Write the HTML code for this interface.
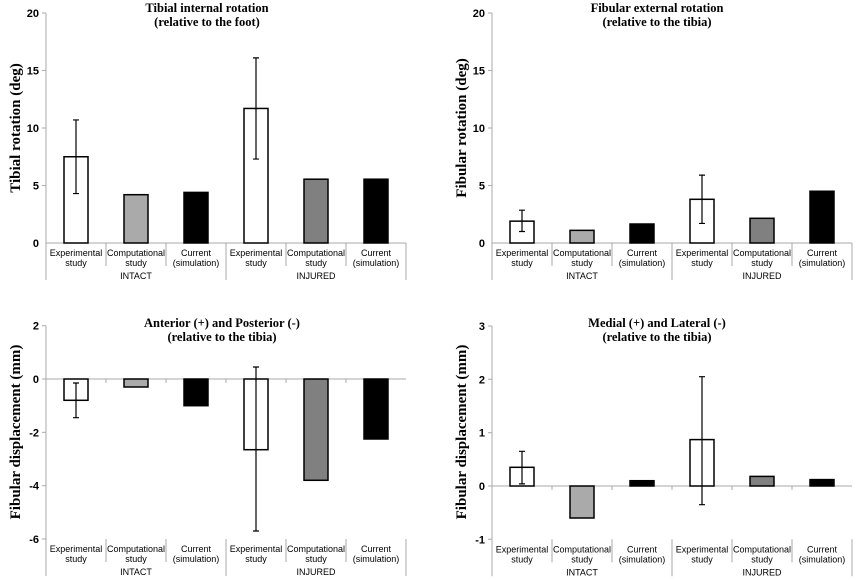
<!DOCTYPE html><html><head><style>body{margin:0;background:#fff}svg{display:block}
.t{font-family:"Liberation Serif",serif;font-weight:bold;font-size:12.5px;text-anchor:middle}
.yl{font-family:"Liberation Serif",serif;font-weight:bold;font-size:15px;text-anchor:middle}
.tk{font-family:"Liberation Sans",sans-serif;font-weight:bold;font-size:11px;text-anchor:end}
.c{font-family:"Liberation Sans",sans-serif;font-size:9px;text-anchor:middle}
.ax{stroke:#aaa;stroke-width:1;fill:none}
.b{stroke:#000;stroke-width:1.5}
.e{stroke:#000;stroke-width:1.2;fill:none}
</style></head><body>
<svg width="860" height="581" viewBox="0 0 860 581" xmlns="http://www.w3.org/2000/svg">
<defs>
<g id="cat">
<line class="ax" x1="0" y1="0" x2="0" y2="37"/>
<line class="ax" x1="60" y1="0" x2="60" y2="23"/><line class="ax" x1="120" y1="0" x2="120" y2="23"/>
<line class="ax" x1="180" y1="0" x2="180" y2="37"/>
<line class="ax" x1="240" y1="0" x2="240" y2="23"/><line class="ax" x1="300" y1="0" x2="300" y2="23"/>
<line class="ax" x1="360" y1="0" x2="360" y2="37"/>
<text class="c" x="30" y="13">Experimental</text><text class="c" x="30" y="23">study</text>
<text class="c" x="90" y="13">Computational</text><text class="c" x="90" y="23">study</text>
<text class="c" x="150" y="13">Current</text><text class="c" x="150" y="23">(simulation)</text>
<text class="c" x="210" y="13">Experimental</text><text class="c" x="210" y="23">study</text>
<text class="c" x="270" y="13">Computational</text><text class="c" x="270" y="23">study</text>
<text class="c" x="330" y="13">Current</text><text class="c" x="330" y="23">(simulation)</text>
<text class="c" x="90" y="36">INTACT</text><text class="c" x="270" y="36">INJURED</text>
</g>
</defs>

<!-- TL -->
<text class="t" x="207" y="12">Tibial internal rotation</text>
<text class="t" x="207" y="26">(relative to the foot)</text>
<text class="yl" transform="translate(20,128) rotate(-90)">Tibial rotation (deg)</text>
<line class="ax" x1="46" y1="13" x2="46" y2="243"/>
<line class="ax" x1="46" y1="243" x2="406" y2="243"/>
<g class="ax"><line x1="42" y1="13" x2="46" y2="13"/><line x1="42" y1="70.5" x2="46" y2="70.5"/><line x1="42" y1="128" x2="46" y2="128"/><line x1="42" y1="185.5" x2="46" y2="185.5"/></g>
<text class="tk" x="39" y="17">20</text><text class="tk" x="39" y="74.5">15</text><text class="tk" x="39" y="132">10</text><text class="tk" x="39" y="189.5">5</text><text class="tk" x="39" y="247">0</text>
<use href="#cat" x="46" y="243"/>
<rect class="b" fill="#fff" x="64" y="156.75" width="24" height="86.25"/>
<rect class="b" fill="#aaa" x="124" y="194.7" width="24" height="48.3"/>
<rect class="b" fill="#000" x="184" y="192.4" width="24" height="50.6"/>
<rect class="b" fill="#fff" x="244" y="108.45" width="24" height="134.55"/>
<rect class="b" fill="#808080" x="304" y="179.2" width="24" height="63.8"/>
<rect class="b" fill="#000" x="364" y="179.2" width="24" height="63.8"/>
<path class="e" d="M76 119.95V193.55M73 119.95H79M73 193.55H79M256 57.85V159.05M253 57.85H259M253 159.05H259"/>

<!-- TR -->
<text class="t" x="657" y="12">Fibular external rotation</text>
<text class="t" x="657" y="26">(relative to the tibia)</text>
<text class="yl" transform="translate(466,128) rotate(-90)">Fibular rotation (deg)</text>
<line class="ax" x1="492" y1="13" x2="492" y2="243"/>
<line class="ax" x1="492" y1="243" x2="852" y2="243"/>
<g class="ax"><line x1="488" y1="13" x2="492" y2="13"/><line x1="488" y1="70.5" x2="492" y2="70.5"/><line x1="488" y1="128" x2="492" y2="128"/><line x1="488" y1="185.5" x2="492" y2="185.5"/></g>
<text class="tk" x="485" y="17">20</text><text class="tk" x="485" y="74.5">15</text><text class="tk" x="485" y="132">10</text><text class="tk" x="485" y="189.5">5</text><text class="tk" x="485" y="247">0</text>
<use href="#cat" x="492" y="243"/>
<rect class="b" fill="#fff" x="510" y="221.15" width="24" height="21.85"/>
<rect class="b" fill="#aaa" x="570" y="230.35" width="24" height="12.65"/>
<rect class="b" fill="#000" x="630" y="224" width="24" height="19"/>
<rect class="b" fill="#fff" x="690" y="199.3" width="24" height="43.7"/>
<rect class="b" fill="#808080" x="750" y="218.3" width="24" height="24.7"/>
<rect class="b" fill="#000" x="810" y="191.25" width="24" height="51.75"/>
<path class="e" d="M522 210.2V231.5M519 210.2H525M519 231.5H525M702 175.15V223.45M699 175.15H705M699 223.45H705"/>

<!-- BL -->
<text class="t" x="222" y="327">Anterior (+) and Posterior (-)</text>
<text class="t" x="222" y="341">(relative to the tibia)</text>
<text class="yl" transform="translate(20,432) rotate(-90)">Fibular displacement (mm)</text>
<line class="ax" x1="46" y1="325.7" x2="46" y2="539"/>
<line class="ax" x1="46" y1="379" x2="406" y2="379"/>
<g class="ax"><line x1="42" y1="325.7" x2="46" y2="325.7"/><line x1="42" y1="379" x2="46" y2="379"/><line x1="42" y1="432.3" x2="46" y2="432.3"/><line x1="42" y1="485.7" x2="46" y2="485.7"/><line x1="42" y1="539" x2="46" y2="539"/>
<line x1="106" y1="379" x2="106" y2="383"/><line x1="166" y1="379" x2="166" y2="383"/><line x1="226" y1="379" x2="226" y2="383"/><line x1="286" y1="379" x2="286" y2="383"/><line x1="346" y1="379" x2="346" y2="383"/></g>
<text class="tk" x="39" y="329.7">2</text><text class="tk" x="39" y="383">0</text><text class="tk" x="39" y="436.3">-2</text><text class="tk" x="39" y="489.7">-4</text><text class="tk" x="39" y="543">-6</text>
<use href="#cat" x="46" y="539"/>
<rect class="b" fill="#fff" x="64" y="379" width="24" height="21.3"/>
<rect class="b" fill="#aaa" x="124" y="379" width="24" height="8"/>
<rect class="b" fill="#000" x="184" y="379" width="24" height="26.7"/>
<rect class="b" fill="#fff" x="244" y="379" width="24" height="70.7"/>
<rect class="b" fill="#808080" x="304" y="379" width="24" height="101.3"/>
<rect class="b" fill="#000" x="364" y="379" width="24" height="60"/>
<path class="e" d="M76 383V417.7M73 383H79M73 417.7H79M256 367V531M253 367H259M253 531H259"/>

<!-- BR -->
<text class="t" x="657" y="327">Medial (+) and Lateral (-)</text>
<text class="t" x="657" y="341">(relative to the tibia)</text>
<text class="yl" transform="translate(466,432) rotate(-90)">Fibular displacement (mm)</text>
<line class="ax" x1="492" y1="326" x2="492" y2="539.3"/>
<line class="ax" x1="492" y1="486" x2="852" y2="486"/>
<g class="ax"><line x1="488" y1="326" x2="492" y2="326"/><line x1="488" y1="379.3" x2="492" y2="379.3"/><line x1="488" y1="432.7" x2="492" y2="432.7"/><line x1="488" y1="486" x2="492" y2="486"/><line x1="488" y1="539.3" x2="492" y2="539.3"/>
<line x1="552" y1="486" x2="552" y2="490"/><line x1="612" y1="486" x2="612" y2="490"/><line x1="672" y1="486" x2="672" y2="490"/><line x1="732" y1="486" x2="732" y2="490"/><line x1="792" y1="486" x2="792" y2="490"/></g>
<text class="tk" x="485" y="330">3</text><text class="tk" x="485" y="383.3">2</text><text class="tk" x="485" y="436.7">1</text><text class="tk" x="485" y="490">0</text><text class="tk" x="485" y="543.3">-1</text>
<use href="#cat" x="492" y="539.3"/>
<rect class="b" fill="#fff" x="510" y="467.3" width="24" height="18.7"/>
<rect class="b" fill="#aaa" x="570" y="486" width="24" height="32"/>
<rect class="b" fill="#000" x="630" y="480.7" width="24" height="5.3"/>
<rect class="b" fill="#fff" x="690" y="439.6" width="24" height="46.4"/>
<rect class="b" fill="#808080" x="750" y="476.4" width="24" height="9.6"/>
<rect class="b" fill="#000" x="810" y="479.6" width="24" height="6.4"/>
<path class="e" d="M522 451.3V483.9M519 451.3H525M519 483.9H525M702 376.7V504.7M699 376.7H705M699 504.7H705"/>
</svg>
</body></html>
